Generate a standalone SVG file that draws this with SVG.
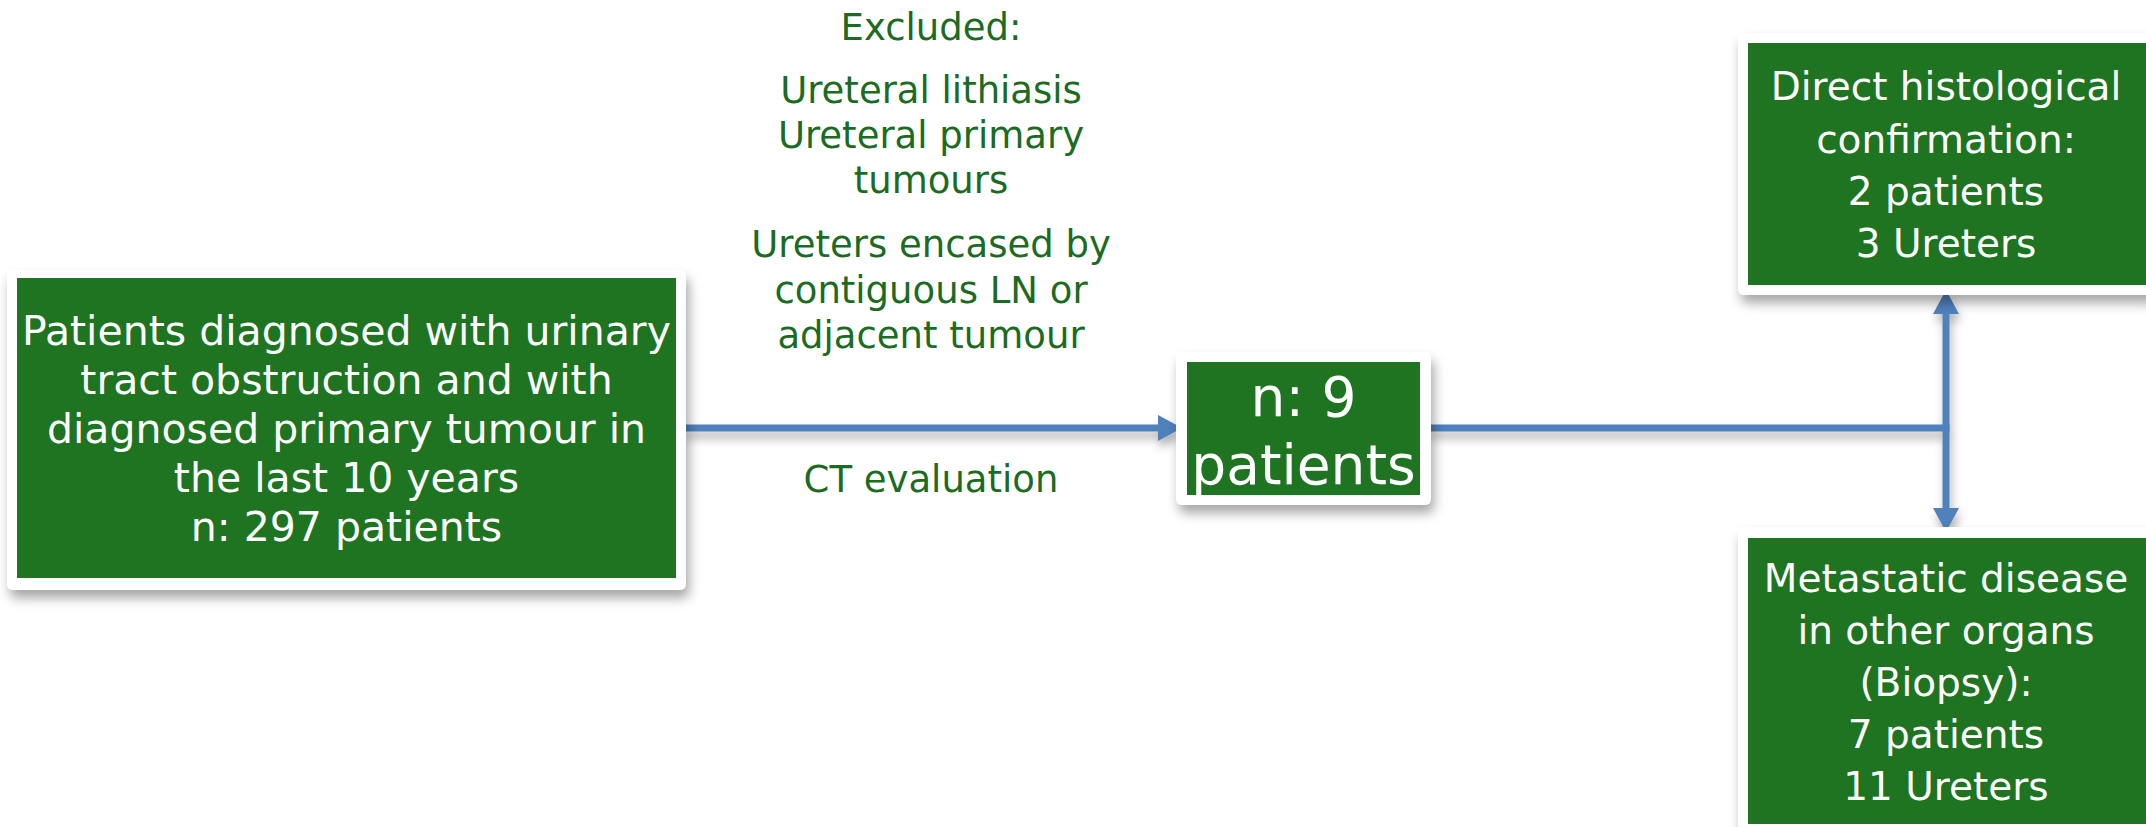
<svg xmlns="http://www.w3.org/2000/svg" width="2146" height="827" viewBox="0 0 2146 827">
<style>
.frame{fill:#ffffff;}
.box{fill:#1E7420;}
.bt{font-family:"DejaVu Sans","Liberation Sans",sans-serif;fill:#ffffff;text-anchor:middle;}
.gt{font-family:"DejaVu Sans","Liberation Sans",sans-serif;fill:#1B6B23;text-anchor:middle;font-size:37px;}
.conn{stroke:#4F81BD;stroke-width:7;fill:none;}
</style>
<defs>
<filter id="sh" x="-10%" y="-10%" width="130%" height="140%">
<feDropShadow dx="3" dy="8" stdDeviation="6" flood-color="#000000" flood-opacity="0.35"/>
</filter>
<filter id="lsh" x="-5%" y="-50%" width="110%" height="300%">
<feDropShadow dx="2" dy="7" stdDeviation="5" flood-color="#000000" flood-opacity="0.3"/>
</filter>
<marker id="ah" markerUnits="userSpaceOnUse" markerWidth="24" markerHeight="26" refX="0" refY="13" orient="auto">
<path d="M0,0 L24,13 L0,26 z" fill="#4F81BD"/>
</marker>
</defs>
<g id="connectors" filter="url(#lsh)">
<line class="conn" x1="684" y1="428" x2="1158" y2="428" marker-end="url(#ah)"/>
<line class="conn" x1="1428" y1="428" x2="1949.5" y2="428"/>
<line class="conn" x1="1946" y1="428" x2="1946" y2="314" marker-end="url(#ah)"/>
<line class="conn" x1="1946" y1="428" x2="1946" y2="508" marker-end="url(#ah)"/>
</g>
<g id="start">
<rect class="frame" x="7" y="270" width="679" height="320" rx="6" filter="url(#sh)"/>
<rect class="box" x="17" y="278" width="659" height="300"/>
<text class="bt" font-size="41" x="346.5"><tspan x="346.5" y="345">Patients diagnosed with urinary</tspan><tspan x="346.5" y="394">tract obstruction and with</tspan><tspan x="346.5" y="443">diagnosed primary tumour in</tspan><tspan x="346.5" y="492">the last 10 years</tspan><tspan x="346.5" y="541">n: 297 patients</tspan></text>
</g>
<g id="excluded">
<text class="gt" x="931" y="40">Excluded:</text>
<text class="gt"><tspan x="931" y="103">Ureteral lithiasis</tspan><tspan x="931" y="148">Ureteral primary</tspan><tspan x="931" y="193">tumours</tspan></text>
<text class="gt"><tspan x="931" y="257">Ureters encased by</tspan><tspan x="931" y="303">contiguous LN or</tspan><tspan x="931" y="348">adjacent tumour</tspan></text>
<text class="gt" x="931" y="492">CT evaluation</text>
</g>
<g id="n9">
<rect class="frame" x="1176" y="352" width="255" height="153" rx="6" filter="url(#sh)"/>
<rect class="box" x="1187" y="362" width="233" height="133"/>
<text class="bt" font-size="55"><tspan x="1303.5" y="416">n: 9</tspan><tspan x="1303.5" y="484">patients</tspan></text>
</g>
<g id="histo">
<rect class="frame" x="1738" y="33" width="420" height="262" rx="6" filter="url(#sh)"/>
<rect class="box" x="1748" y="43" width="398" height="242"/>
<text class="bt" font-size="39"><tspan x="1946" y="100">Direct histological</tspan><tspan x="1946" y="153">confirmation:</tspan><tspan x="1946" y="205">2 patients</tspan><tspan x="1946" y="257">3 Ureters</tspan></text>
</g>
<g id="meta">
<rect class="frame" x="1738" y="527" width="420" height="320" rx="6" filter="url(#sh)"/>
<rect class="box" x="1748" y="538" width="398" height="286"/>
<text class="bt" font-size="39"><tspan x="1946" y="592">Metastatic disease</tspan><tspan x="1946" y="644">in other organs</tspan><tspan x="1946" y="696">(Biopsy):</tspan><tspan x="1946" y="748">7 patients</tspan><tspan x="1946" y="800">11 Ureters</tspan></text>
</g>
</svg>
